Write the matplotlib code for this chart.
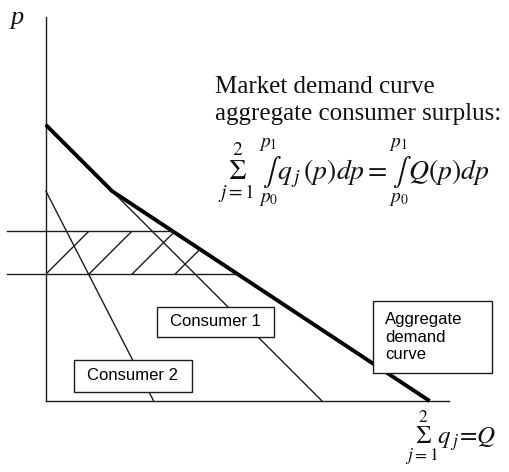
import numpy as np
import matplotlib
matplotlib.use("Agg")
import matplotlib.pyplot as plt
from matplotlib.patches import Polygon, Rectangle

plt.rcParams['mathtext.fontset'] = 'stix'

# individual linear demand curves: price intercept, quantity intercept
c1_pmax, c1_qmax = 10.0, 10.0
c2_pmax, c2_qmax = 7.6, 3.9
# the two prices bounding the surplus band
p0, p1 = 4.6, 6.15
# axis extents
p_axis_top = 13.9
q_axis_right = 14.6
price_line_left = -1.4

u = 27.6  # pixels per unit
ink = '#1c1c1c'
thin = 1.0


def q1(p):
    return np.maximum(0, c1_qmax * (1 - p / c1_pmax))


def q2(p):
    return np.maximum(0, c2_qmax * (1 - p / c2_pmax))


def Q(p):
    return q1(p) + q2(p)


fig = plt.figure(figsize=(5.09, 4.72), dpi=100)
ax = fig.add_axes([0, 0, 1, 1])
ax.set_xlim(-46 / u, (509 - 46) / u)
ax.set_ylim(-(472 - 401) / u, 401 / u)
ax.axis('off')

# axes
ax.plot([0, 0], [0, p_axis_top], color=ink, lw=thin)
ax.plot([0, q_axis_right], [0, 0], color=ink, lw=thin)

# individual demand curves
p_c1 = np.array([c1_pmax, 0])
p_c2 = np.array([c2_pmax, 0])
ax.plot(q1(p_c1), p_c1, color=ink, lw=thin)
ax.plot(q2(p_c2), p_c2, color=ink, lw=thin)

# aggregate demand (kinked)
p_agg = np.array([c1_pmax, c2_pmax, 0])
ax.plot(Q(p_agg), p_agg, color='black', lw=2.8, solid_capstyle='butt')

# price lines
for p in (p0, p1):
    ax.plot([price_line_left, Q(p)], [p, p], color=ink, lw=thin)

# hatched surplus band (drawn by hand in the original: four strokes)
band = Polygon([(0, p0), (Q(p0), p0), (Q(p1), p1), (0, p1)],
               closed=True, fill=False, edgecolor='none')
ax.add_patch(band)
step = 1.56
for x0 in np.arange(4) * step:
    ln, = ax.plot([x0, x0 + (p1 - p0) * 1.2], [p0, p0 + (p1 - p0) * 1.2],
                  color=ink, lw=thin)
    ln.set_clip_path(band)

# labels
txt = '#111111'
ax.text(-1.30, 13.66, 'p', family='Liberation Serif', style='italic',
        fontsize=19, ha='left', va='baseline', color=txt)
ax.text(6.12, 11.16, 'Market demand curve', family='Liberation Serif',
        fontsize=18, ha='left', va='baseline', color=txt)
ax.text(6.12, 10.18, 'aggregate consumer surplus:', family='Liberation Serif',
        fontsize=18, ha='left', va='baseline', color=txt)
ax.text(6.23, 8.0,
        r'$\underset{j=1}{\overset{2}{\Sigma}}\;\underset{p_0}{\overset{p_1}{\int}}'
        r'q_{\,j}\,(p)dp = \underset{p_0}{\overset{p_1}{\int}}Q(p)dp$',
        fontsize=20, ha='left', va='baseline', color=txt)
ax.text(13.0, -1.59,
        r'$\underset{j=1}{\overset{2}{\Sigma}}q_{\,j}\!=\!Q$',
        fontsize=18, ha='left', va='baseline', color=txt)

# boxed labels
boxes = [
    ((4.02, 2.32), 4.24, 1.09, 'Consumer 1', 'center'),
    ((1.01, 0.33), 4.28, 1.16, 'Consumer 2', 'center'),
    ((11.85, 1.01), 4.31, 2.61, 'Aggregate\ndemand\ncurve', 'left'),
]
for (bx, by), bw, bh, label, align in boxes:
    ax.add_patch(Rectangle((bx, by), bw, bh, facecolor='white',
                           edgecolor=ink, lw=1.0, zorder=5))
    if align == 'center':
        ax.text(bx + bw / 2, by + bh / 2, label, family='Liberation Sans',
                fontsize=12, ha='center', va='center', zorder=6)
    else:
        ax.text(bx + 0.43, by + bh / 2, label, family='Liberation Sans',
                fontsize=12, ha='left', va='center', linespacing=1.2,
                zorder=6)

fig.savefig('out.png', dpi=100)
